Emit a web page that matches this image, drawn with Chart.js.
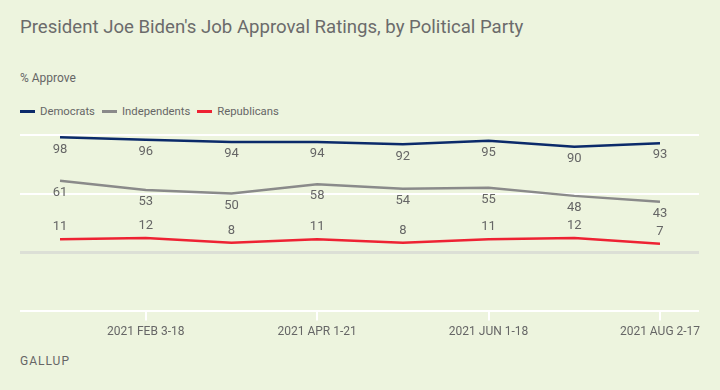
<!DOCTYPE html>
<html>
<head>
<meta charset="utf-8">
<script src="https://cdn.jsdelivr.net/npm/chart.js@4"></script>
<style>
  html, body { margin: 0; padding: 0; }
  body { width: 720px; height: 390px; background: #edf4de; position: relative; overflow: hidden;
    font-family: Roboto, sans-serif; color: #666; }
  #title { position: absolute; left: 20px; top: 16px; font-size: 18.6px; color: #6b6b6b; white-space: nowrap; }
  #sub { position: absolute; left: 20px; top: 71px; font-size: 12px; }
  #legend { position: absolute; left: 20px; top: 105px; font-size: 11.3px; display: flex; }
  #legend span.item { margin-right: 7px; display: flex; align-items: center; }
  #legend span.mark { display: inline-block; width: 15px; height: 3px; margin-right: 5px; }
  #source { position: absolute; left: 20px; top: 354px; font-size: 12px; letter-spacing: 1px; }
  #wrap { position: absolute; left: 0; top: 120px; width: 720px; height: 230px; }
</style>
</head>
<body>
<div id="title">President Joe Biden's Job Approval Ratings, by Political Party</div>
<div id="sub">% Approve</div>
<div id="legend"></div>
<div id="source">GALLUP</div>
<div id="wrap"><canvas id="chart"></canvas></div>
<script>
// data
const periods = ["2021 JAN 21-FEB 2", "2021 FEB 3-18", "2021 MAR 1-15", "2021 APR 1-21",
  "2021 MAY 3-18", "2021 JUN 1-18", "2021 JUL 6-21", "2021 AUG 2-17"];
const seriesNames = ["Democrats", "Independents", "Republicans"];
const democrats = [98, 96, 94, 94, 92, 95, 90, 93];
const independents = [61, 53, 50, 58, 54, 55, 48, 43];
const republicans = [11, 12, 8, 11, 8, 11, 12, 7];
const yTicks = [-50, 0, 50, 100];

const colors = ["#0b2a6a", "#8a8a8a", "#ee2233"];
const labelSide = [1, 1, -1]; // below, below, above

// legend
const legend = document.getElementById("legend");
seriesNames.forEach((name, i) => {
  legend.innerHTML += `<span class="item"><span class="mark" style="background:${colors[i]}"></span>${name}</span>`;
});

const toPoints = (arr) => arr.map((v, i) => ({ x: i, y: v }));

const valueLabels = {
  id: "valueLabels",
  afterDatasetsDraw(chart) {
    const ctx = chart.ctx;
    ctx.save();
    ctx.font = "13px Roboto, sans-serif";
    ctx.fillStyle = "#666";
    ctx.textAlign = "center";
    ctx.textBaseline = "middle";
    chart.data.datasets.forEach((ds, di) => {
      chart.getDatasetMeta(di).data.forEach((pt, i) => {
        ctx.fillText(ds.data[i].y, pt.x, pt.y + labelSide[di] * 12);
      });
    });
    ctx.restore();
  },
};

const ctx = document.getElementById("chart").getContext("2d");
new Chart(ctx, {
  type: "line",
  data: {
    datasets: [democrats, independents, republicans].map((arr, i) => ({
      label: seriesNames[i],
      data: toPoints(arr),
      borderColor: colors[i],
      borderWidth: 2.5,
      pointRadius: 0,
      tension: 0,
    })),
  },
  options: {
    responsive: true,
    maintainAspectRatio: false,
    animation: false,
    layout: { padding: { left: 20, right: 21, top: 15, bottom: 7 } },
    plugins: { legend: { display: false }, tooltip: { enabled: false } },
    scales: {
      x: {
        type: "linear",
        min: -0.467,
        max: 7.455,
        afterBuildTicks: (axis) => {
          axis.ticks = [1, 3, 5, 7].map((v) => ({ value: v }));
        },
        border: { display: false },
        grid: { drawOnChartArea: false, drawTicks: true, tickLength: 10, color: "#ffffff", lineWidth: 2 },
        ticks: {
          autoSkip: false,
          maxRotation: 0,
          padding: 4,
          color: "#666",
          font: { family: "Roboto, sans-serif", size: 12 },
          callback: (v) => periods[v],
        },
      },
      y: {
        min: -50,
        max: 100,
        afterBuildTicks: (axis) => {
          axis.ticks = yTicks.map((v) => ({ value: v }));
        },
        border: { display: false },
        grid: {
          drawTicks: false,
          color: (c) => (c.tick && c.tick.value === 0 ? "#dcdfd6" : "#ffffff"),
          lineWidth: (c) => (c.tick && c.tick.value === 0 ? 3 : 2),
        },
        ticks: { display: false },
      },
    },
  },
  plugins: [valueLabels],
});
</script>
</body>
</html>
